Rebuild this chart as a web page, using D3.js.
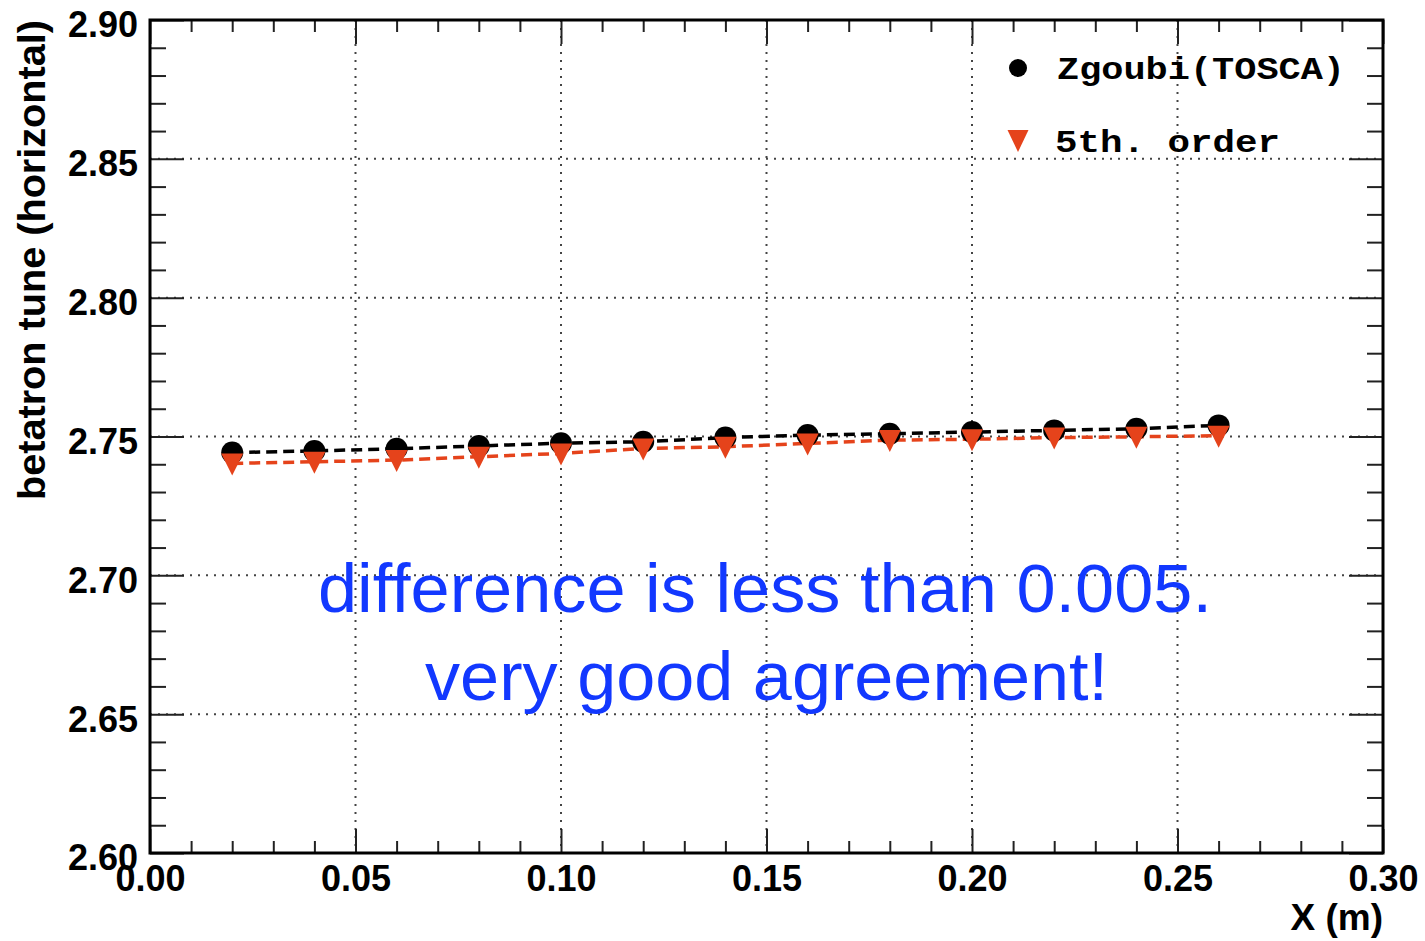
<!DOCTYPE html>
<html>
<head>
<meta charset="utf-8">
<script src="https://cdn.jsdelivr.net/npm/d3@7"></script>
<style>
  html, body { margin: 0; padding: 0; background: #fff; }
  svg { display: block; }
</style>
</head>
<body>
<svg id="chart" width="1425" height="941"></svg>
<script>
// Horizontal betatron tune vs. radial position X
const xPositions = [0.02, 0.04, 0.06, 0.08, 0.10, 0.12, 0.14, 0.16, 0.18, 0.20, 0.22, 0.24, 0.26];
const tuneZgoubi = [2.7442, 2.7448, 2.7456, 2.7466, 2.7476, 2.7481, 2.7496, 2.7505, 2.7510, 2.7516, 2.7522, 2.7528, 2.7540];
const tuneFifthOrder = [2.7403, 2.7409, 2.7415, 2.7427, 2.7439, 2.7457, 2.7463, 2.7475, 2.7487, 2.7490, 2.7496, 2.7499, 2.7503];

const xMajorTicks = [0.00, 0.05, 0.10, 0.15, 0.20, 0.25, 0.30];
const xMinorTicks = [0.01, 0.02, 0.03, 0.04, 0.06, 0.07, 0.08, 0.09, 0.11, 0.12, 0.13, 0.14,
                     0.16, 0.17, 0.18, 0.19, 0.21, 0.22, 0.23, 0.24, 0.26, 0.27, 0.28, 0.29];
const yMajorTicks = [2.60, 2.65, 2.70, 2.75, 2.80, 2.85, 2.90];
const yMinorTicks = [2.61, 2.62, 2.63, 2.64, 2.66, 2.67, 2.68, 2.69, 2.71, 2.72, 2.73, 2.74,
                     2.76, 2.77, 2.78, 2.79, 2.81, 2.82, 2.83, 2.84, 2.86, 2.87, 2.88, 2.89];

const legendLabels = ["Zgoubi(TOSCA)", "5th. order"];
const noteLines = ["difference is less than 0.005.", "very good agreement!"];
const xTitle = "X (m)";
const yTitle = "betatron tune (horizontal)";

const RED = "#e5431b";
const BLUE = "#1238ff";
const margin = { left: 150, right: 1383, top: 20, bottom: 853 };

const svg = d3.select("#chart");
const x = d3.scaleLinear().domain([0, 0.30]).range([margin.left, margin.right]);
const y = d3.scaleLinear().domain([2.60, 2.90]).range([margin.bottom, margin.top]);

// dotted grid at the major ticks
const grid = svg.append("g").attr("stroke", "#444").attr("stroke-width", 2).attr("stroke-dasharray", "2,6");
grid.selectAll("line.gx").data(xMajorTicks.slice(1, -1)).join("line")
  .attr("x1", d => x(d)).attr("x2", d => x(d)).attr("y1", margin.top).attr("y2", margin.bottom);
grid.selectAll("line.gy").data(yMajorTicks.slice(1, -1)).join("line")
  .attr("y1", d => y(d)).attr("y2", d => y(d)).attr("x1", margin.left).attr("x2", margin.right);

const fmt = d3.format(".2f");
const tickFont = "'Liberation Sans', Arial, Helvetica, sans-serif";

function styleAxis(g) {
  g.select(".domain").remove();
  g.selectAll(".tick line").attr("stroke", "#222").attr("stroke-width", 2);
  g.selectAll(".tick text").attr("font-family", tickFont).attr("font-weight", "bold")
    .attr("font-size", 36).attr("fill", "#000");
}

// bottom axis
svg.append("g").attr("transform", `translate(0,${margin.bottom})`)
  .call(d3.axisBottom(x).tickValues(xMajorTicks).tickSize(-24).tickPadding(12).tickFormat(fmt))
  .call(styleAxis);
svg.append("g").attr("transform", `translate(0,${margin.bottom})`)
  .call(d3.axisBottom(x).tickValues(xMinorTicks).tickSize(-12).tickFormat(""))
  .call(styleAxis);
// top axis
svg.append("g").attr("transform", `translate(0,${margin.top})`)
  .call(d3.axisTop(x).tickValues(xMajorTicks).tickSize(-24).tickFormat(""))
  .call(styleAxis);
svg.append("g").attr("transform", `translate(0,${margin.top})`)
  .call(d3.axisTop(x).tickValues(xMinorTicks).tickSize(-12).tickFormat(""))
  .call(styleAxis);
// left axis
svg.append("g").attr("transform", `translate(${margin.left},0)`)
  .call(d3.axisLeft(y).tickValues(yMajorTicks).tickSize(-34).tickPadding(12).tickFormat(fmt))
  .call(styleAxis)
  .call(g => g.selectAll(".tick text").attr("dy", "0.47em"));
svg.append("g").attr("transform", `translate(${margin.left},0)`)
  .call(d3.axisLeft(y).tickValues(yMinorTicks).tickSize(-16).tickFormat(""))
  .call(styleAxis);
// right axis
svg.append("g").attr("transform", `translate(${margin.right},0)`)
  .call(d3.axisRight(y).tickValues(yMajorTicks).tickSize(-34).tickFormat(""))
  .call(styleAxis);
svg.append("g").attr("transform", `translate(${margin.right},0)`)
  .call(d3.axisRight(y).tickValues(yMinorTicks).tickSize(-16).tickFormat(""))
  .call(styleAxis);

// frame
svg.append("rect")
  .attr("x", margin.left).attr("y", margin.top)
  .attr("width", margin.right - margin.left).attr("height", margin.bottom - margin.top)
  .attr("fill", "none").attr("stroke", "#000").attr("stroke-width", 3);

// axis titles
svg.append("text").attr("x", margin.right).attr("y", 930).attr("text-anchor", "end")
  .attr("font-family", tickFont).attr("font-weight", "bold").attr("font-size", 37).text(xTitle);
svg.append("text").attr("transform", `translate(45,${margin.top}) rotate(-90)`)
  .attr("text-anchor", "end")
  .attr("font-family", tickFont).attr("font-weight", "bold").attr("font-size", 38)
  .attr("textLength", 480).attr("lengthAdjust", "spacingAndGlyphs").text(yTitle);

// series
const zData = xPositions.map((d, i) => ({ x: d, y: tuneZgoubi[i] }));
const fData = xPositions.map((d, i) => ({ x: d, y: tuneFifthOrder[i] }));
const line = d3.line().x(d => x(d.x)).y(d => y(d.y));

svg.append("path").datum(zData).attr("d", line)
  .attr("fill", "none").attr("stroke", "#000").attr("stroke-width", 3.5).attr("stroke-dasharray", "11,6");
svg.append("path").datum(fData).attr("d", line)
  .attr("fill", "none").attr("stroke", RED).attr("stroke-width", 3.5).attr("stroke-dasharray", "11,6");

svg.append("g").selectAll("circle").data(zData).join("circle")
  .attr("cx", d => x(d.x)).attr("cy", d => y(d.y)).attr("r", 11).attr("fill", "#000");

const triDown = (cx, cy, hw, up, down) =>
  `M${cx - hw},${cy - up}L${cx + hw},${cy - up}L${cx},${cy + down}Z`;
svg.append("g").selectAll("path").data(fData).join("path")
  .attr("d", d => triDown(x(d.x), y(d.y), 11, 10, 12)).attr("fill", RED);

// legend
const legFont = "'Liberation Mono', 'Courier New', Courier, monospace";
svg.append("circle").attr("cx", 1018).attr("cy", 68).attr("r", 9).attr("fill", "#000");
svg.append("path").attr("d", triDown(1018, 140, 10.5, 10, 12)).attr("fill", RED);
svg.append("text").attr("x", 1057).attr("y", 79).attr("font-family", legFont).attr("font-weight", "bold")
  .attr("font-size", 32).attr("textLength", 288).attr("lengthAdjust", "spacingAndGlyphs").text(legendLabels[0]);
svg.append("text").attr("x", 1055).attr("y", 152).attr("font-family", legFont).attr("font-weight", "bold")
  .attr("font-size", 32).attr("textLength", 225).attr("lengthAdjust", "spacingAndGlyphs").text(legendLabels[1]);

// annotation
const noteFont = "'Liberation Sans', Arial, Helvetica, sans-serif";
svg.append("text").attr("x", 318).attr("y", 612).attr("font-family", noteFont).attr("font-size", 68)
  .attr("fill", BLUE).attr("textLength", 894).attr("lengthAdjust", "spacingAndGlyphs").text(noteLines[0]);
svg.append("text").attr("x", 425).attr("y", 700).attr("font-family", noteFont).attr("font-size", 68)
  .attr("fill", BLUE).attr("textLength", 683).attr("lengthAdjust", "spacingAndGlyphs").text(noteLines[1]);
</script>
</body>
</html>
